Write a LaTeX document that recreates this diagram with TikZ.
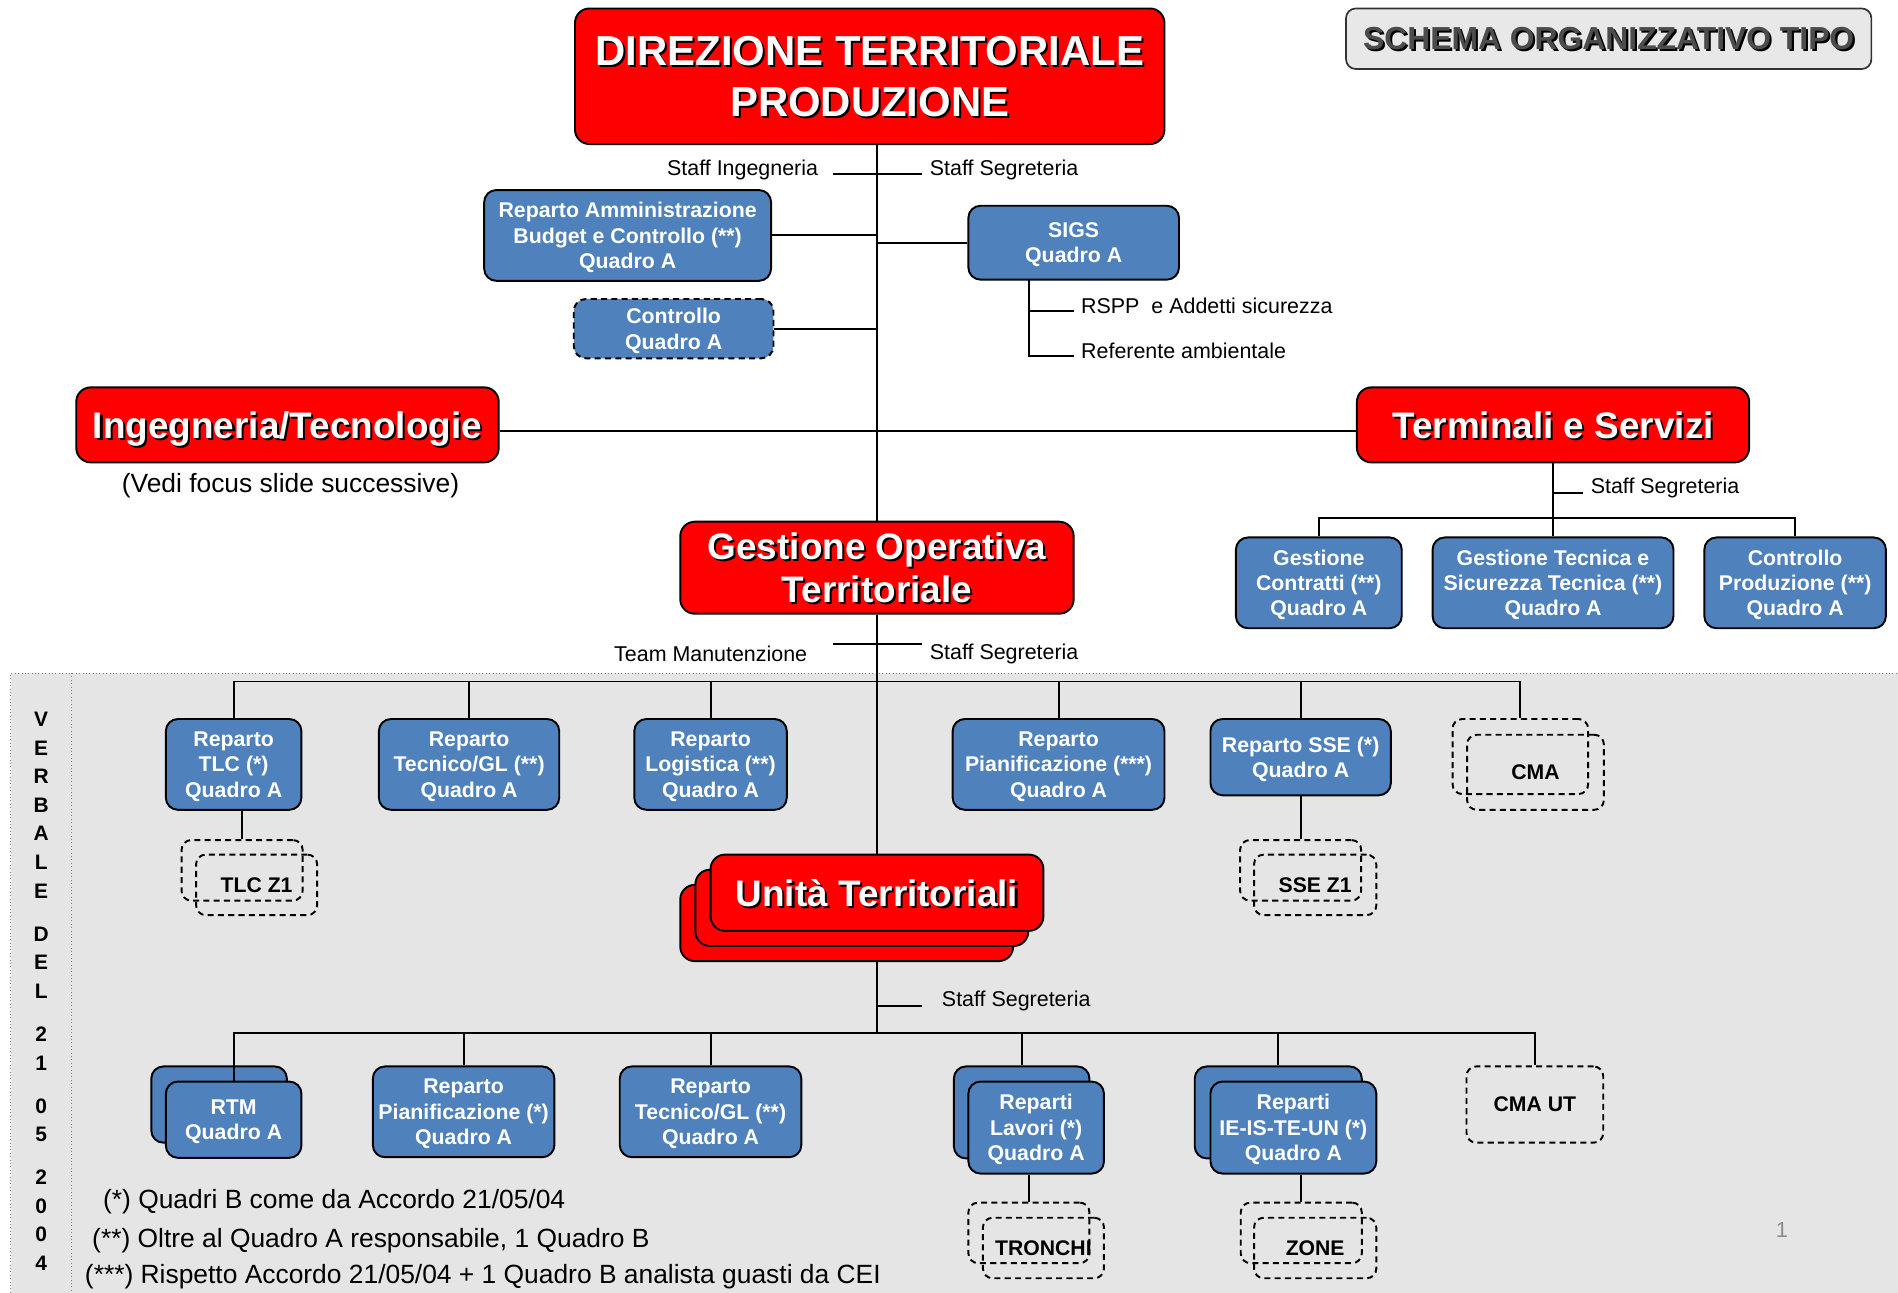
\documentclass[tikz,border=0pt]{standalone}
\usepackage{fontspec}
\setmainfont{Liberation Sans}
\definecolor{rd}{RGB}{255,0,0}
\definecolor{bl}{RGB}{79,129,189}
\definecolor{bgg}{RGB}{229,229,229}
\definecolor{sg}{RGB}{232,232,232}
\newcommand\shd[1]{\makebox[0pt][l]{\kern1.7pt\raisebox{-1.7pt}{\textcolor{black}{#1}}}#1}
\tikzset{
 redbox/.style={draw=black, line width=1.6pt, fill=rd, rounded corners=12pt, text=white, align=center, inner sep=0pt, text depth=0pt, font=\bfseries\fontsize{30.5}{36}\selectfont},
 bluebox/.style={draw=black, line width=1.6pt, fill=bl, rounded corners=10pt, text=white, align=center, inner sep=0pt, text depth=0pt, font=\bfseries\fontsize{17.6}{21}\selectfont},
 dbox/.style={draw=black, line width=1.6pt, dash pattern=on 5pt off 3.5pt, rounded corners=8pt, align=center, inner sep=0pt, font=\bfseries\fontsize{17.5}{21}\selectfont},
 conn/.style={line width=1.6pt, black},
 lbl/.style={font=\fontsize{17.7}{21}\selectfont, inner sep=0pt},
 foot/.style={font=\fontsize{21.8}{26}\selectfont, inner sep=0pt},
 sz/.style 2 args={minimum width=#1pt, minimum height=#2pt},
}
\begin{document}
\begin{tikzpicture}[x=1pt,y=-1pt]
\useasboundingbox (0,0) rectangle (1568,1068);
\fill[bgg] (9,556) rectangle (1568,1068);
\draw[gray, dotted, line width=0.8pt] (9,1068) -- (9,556) -- (1568,556);
\draw[gray, dotted, line width=0.8pt] (59,556) -- (59,1068);

% top
\node[redbox, sz={487}{112}, font=\bfseries\fontsize{34.6}{42}\selectfont] (dtp) at (718.5,63) {\shd{DIREZIONE TERRITORIALE}\\\shd{PRODUZIONE}};
\node[draw=black!80, line width=1.4pt, fill=sg, rounded corners=8pt, sz={434}{50}, text=black!70, text depth=0pt, font=\bfseries\fontsize{26.3}{30}\selectfont, inner sep=0pt] (schema) at (1329,32) {\shd{SCHEMA ORGANIZZATIVO TIPO}};

\node[lbl, anchor=east] (sil) at (676,140) {Staff Ingegneria};
\node[lbl, anchor=west] (ssl) at (768,140) {Staff Segreteria};
\coordinate (siA) at (688,144);
\coordinate (siB) at (762,144);

\node[bluebox, sz={237}{75}] (amm) at (518.5,194.5) {Reparto Amministrazione\\Budget e Controllo (**)\\Quadro A};
\node[bluebox, dash pattern=on 5pt off 3.5pt, sz={165}{49}] (ctrl) at (556.5,271.5) {Controllo\\Quadro A};
\node[bluebox, sz={174}{61}] (sigs) at (887,200.5) {SIGS\\Quadro A};
\coordinate (sd) at (850,231);
\coordinate (rA) at (887,257);
\coordinate (rB) at (887,294);
\node[lbl, anchor=west] (rspp) at (893,253) {RSPP\ \ e Addetti sicurezza};
\node[lbl, anchor=west] (refa) at (893,290) {Referente ambientale};

% middle
\node[redbox, sz={349}{62}] (ing) at (237.5,351) {\shd{Ingegneria/Tecnologie}};
\node[foot] (vedi) at (240,401) {(Vedi focus slide successive)};
\node[redbox, sz={324}{62}] (ter) at (1283,351) {\shd{Terminali e Servizi}};
\node[lbl, anchor=west] (tssl) at (1314,403) {Staff Segreteria};
\coordinate (tssA) at (1283,407);
\coordinate (tssB) at (1308,407);
\coordinate (tbus) at (1283,428);
\node[bluebox, sz={137}{75}] (gc) at (1089.5,481.5) {Gestione\\Contratti (**)\\Quadro A};
\node[bluebox, sz={199}{75}] (gt) at (1283,481.5) {Gestione Tecnica e\\Sicurezza Tecnica (**)\\Quadro A};
\node[bluebox, sz={150}{75}] (gp) at (1483,481.5) {Controllo\\Produzione (**)\\Quadro A};

\node[redbox, sz={325}{76}] (got) at (724.5,469) {\shd{Gestione Operativa}\\\shd{Territoriale}};
\node[lbl, anchor=east] (tml) at (667,540) {Team Manutenzione};
\node[lbl, anchor=west] (gssl) at (768,540) {Staff Segreteria};
\coordinate (tmA) at (688,532);
\coordinate (tmB) at (762,532);
\coordinate (bus1) at (724.5,563);

% row 1
\node[bluebox, sz={112}{75}] (tlc) at (193,631.5) {Reparto\\TLC (*)\\Quadro A};
\node[bluebox, sz={149}{75}] (rtg) at (387.5,631.5) {Reparto\\Tecnico/GL (**)\\Quadro A};
\node[bluebox, sz={126}{75}] (rlog) at (587,631.5) {Reparto\\Logistica (**)\\Quadro A};
\node[bluebox, sz={175}{75}] (rpl) at (874.5,631.5) {Reparto\\Pianificazione (***)\\Quadro A};
\node[bluebox, sz={149}{63}] (sse) at (1074.5,625.5) {Reparto SSE (*)\\Quadro A};
\node[dbox, sz={112}{62}] (cmaB) at (1256,625) {};
\node[dbox, sz={113}{62}] (cmaF) at (1268.5,638) {CMA};
\node[dbox, sz={100}{50}] (tlczB) at (200,719) {};
\node[dbox, sz={100}{50}] (tlczF) at (212,731) {TLC Z1};
\node[dbox, sz={100}{50}] (ssezB) at (1074.5,719) {};
\node[dbox, sz={101}{50}] (ssezF) at (1086.5,731) {SSE Z1};

% unita territoriali
\node[redbox, sz={275}{63}] (utC) at (699.5,762.5) {};
\node[redbox, sz={275}{63}] (utB) at (712,750) {};
\node[redbox, sz={275}{63}] (utA) at (724.5,737.5) {\shd{Unità Territoriali}};
\coordinate (uss) at (724.5,831);
\coordinate (ussB) at (762,831);
\node[lbl, anchor=west] (ussl) at (778,827) {Staff Segreteria};
\coordinate (bus2) at (724.5,853);

% row 2
\node[bluebox, sz={112}{63}] (rtmB) at (181,912.5) {};
\node[bluebox, sz={112}{63}] (rtmF) at (193,925) {RTM\\Quadro A};
\node[bluebox, sz={150}{75}] (rpl2) at (383,918.5) {Reparto\\Pianificazione (*)\\Quadro A};
\node[bluebox, sz={150}{75}] (rtg2) at (587,918.5) {Reparto\\Tecnico/GL (**)\\Quadro A};
\node[bluebox, sz={112}{76}] (lavB) at (844,919) {};
\node[bluebox, sz={112}{76}] (lavF) at (856,931.5) {Reparti\\Lavori (*)\\Quadro A};
\node[bluebox, sz={138}{76}] (ieB) at (1056,919) {};
\node[bluebox, sz={137}{76}] (ieF) at (1068.5,931.5) {Reparti\\IE-IS-TE-UN (*)\\Quadro A};
\node[dbox, sz={113}{63}] (cmaut) at (1268,912.5) {CMA UT};
\node[dbox, sz={100}{50}] (tronB) at (850,1018.5) {};
\node[dbox, sz={100}{50}] (tronF) at (862,1031) {TRONCHI};
\node[dbox, sz={100}{50}] (zoneB) at (1075,1018.5) {};
\node[dbox, sz={101}{50}] (zoneF) at (1086.5,1031) {ZONE};

% notes
\node[font=\bfseries\fontsize{17.3}{23.6}\selectfont, align=center, inner sep=0pt] (verb) at (34,819) {V\\E\\R\\B\\A\\L\\E\\[12pt]D\\E\\L\\[12pt]2\\1\\[12pt]0\\5\\[12pt]2\\0\\0\\4};
\node[foot, anchor=west] (fn1) at (85,993) {(*) Quadri B come da Accordo 21/05/04};
\node[foot, anchor=west] (fn2) at (76,1025) {(**) Oltre al Quadro A responsabile, 1 Quadro B};
\node[foot, anchor=west] (fn3) at (70,1055) {(***) Rispetto Accordo 21/05/04 + 1 Quadro B analista guasti da CEI};
\node[text=black!45, font=\fontsize{18}{18}\selectfont, inner sep=0pt] (pg) at (1472,1016) {1};

% connectors
\draw[conn] (dtp.south -| got.north) -- (got.north);
\draw[conn] (siA) -- (siB);
\draw[conn] (amm.east) -- (amm.east -| got.north);
\draw[conn] (ctrl.east) -- (ctrl.east -| got.north);
\draw[conn] (sigs.west) -- (sigs.west -| got.north);
\draw[conn] (sd) |- (rB);
\draw[conn] (sd |- rA) -- (rA);
\draw[conn] ([yshift=-5pt]ing.east) -- ([yshift=-5pt]ter.west);
\draw[conn] (ter.south) -- (tbus);
\draw[conn] (tssA) -- (tssB);
\draw[conn] (gc.north) |- (tbus);
\draw[conn] (gp.north) |- (tbus);
\draw[conn] (gt.north) -- (tbus);
\draw[conn] (got.south) -- (utA.north);
\draw[conn] (tmA) -- (tmB);
\foreach \n in {tlc,rtg,rlog,rpl,sse,cmaB} \draw[conn] (\n.north) |- (bus1);
\draw[conn] (tlczB.north) -- (tlczB.north |- tlc.south);
\draw[conn] (ssezB.north) -- (ssezB.north |- sse.south);
\draw[conn] (bus2 |- utC.south) -- (bus2);
\draw[conn] (uss) -- (ussB);
\foreach \n in {rtmF,rpl2,rtg2,lavB,ieB,cmaut} \draw[conn] (\n.north) |- (bus2);
\draw[conn] (tronB.north) -- (tronB.north |- lavF.south);
\draw[conn] (zoneB.north) -- (zoneB.north |- ieF.south);
\end{tikzpicture}
\end{document}
